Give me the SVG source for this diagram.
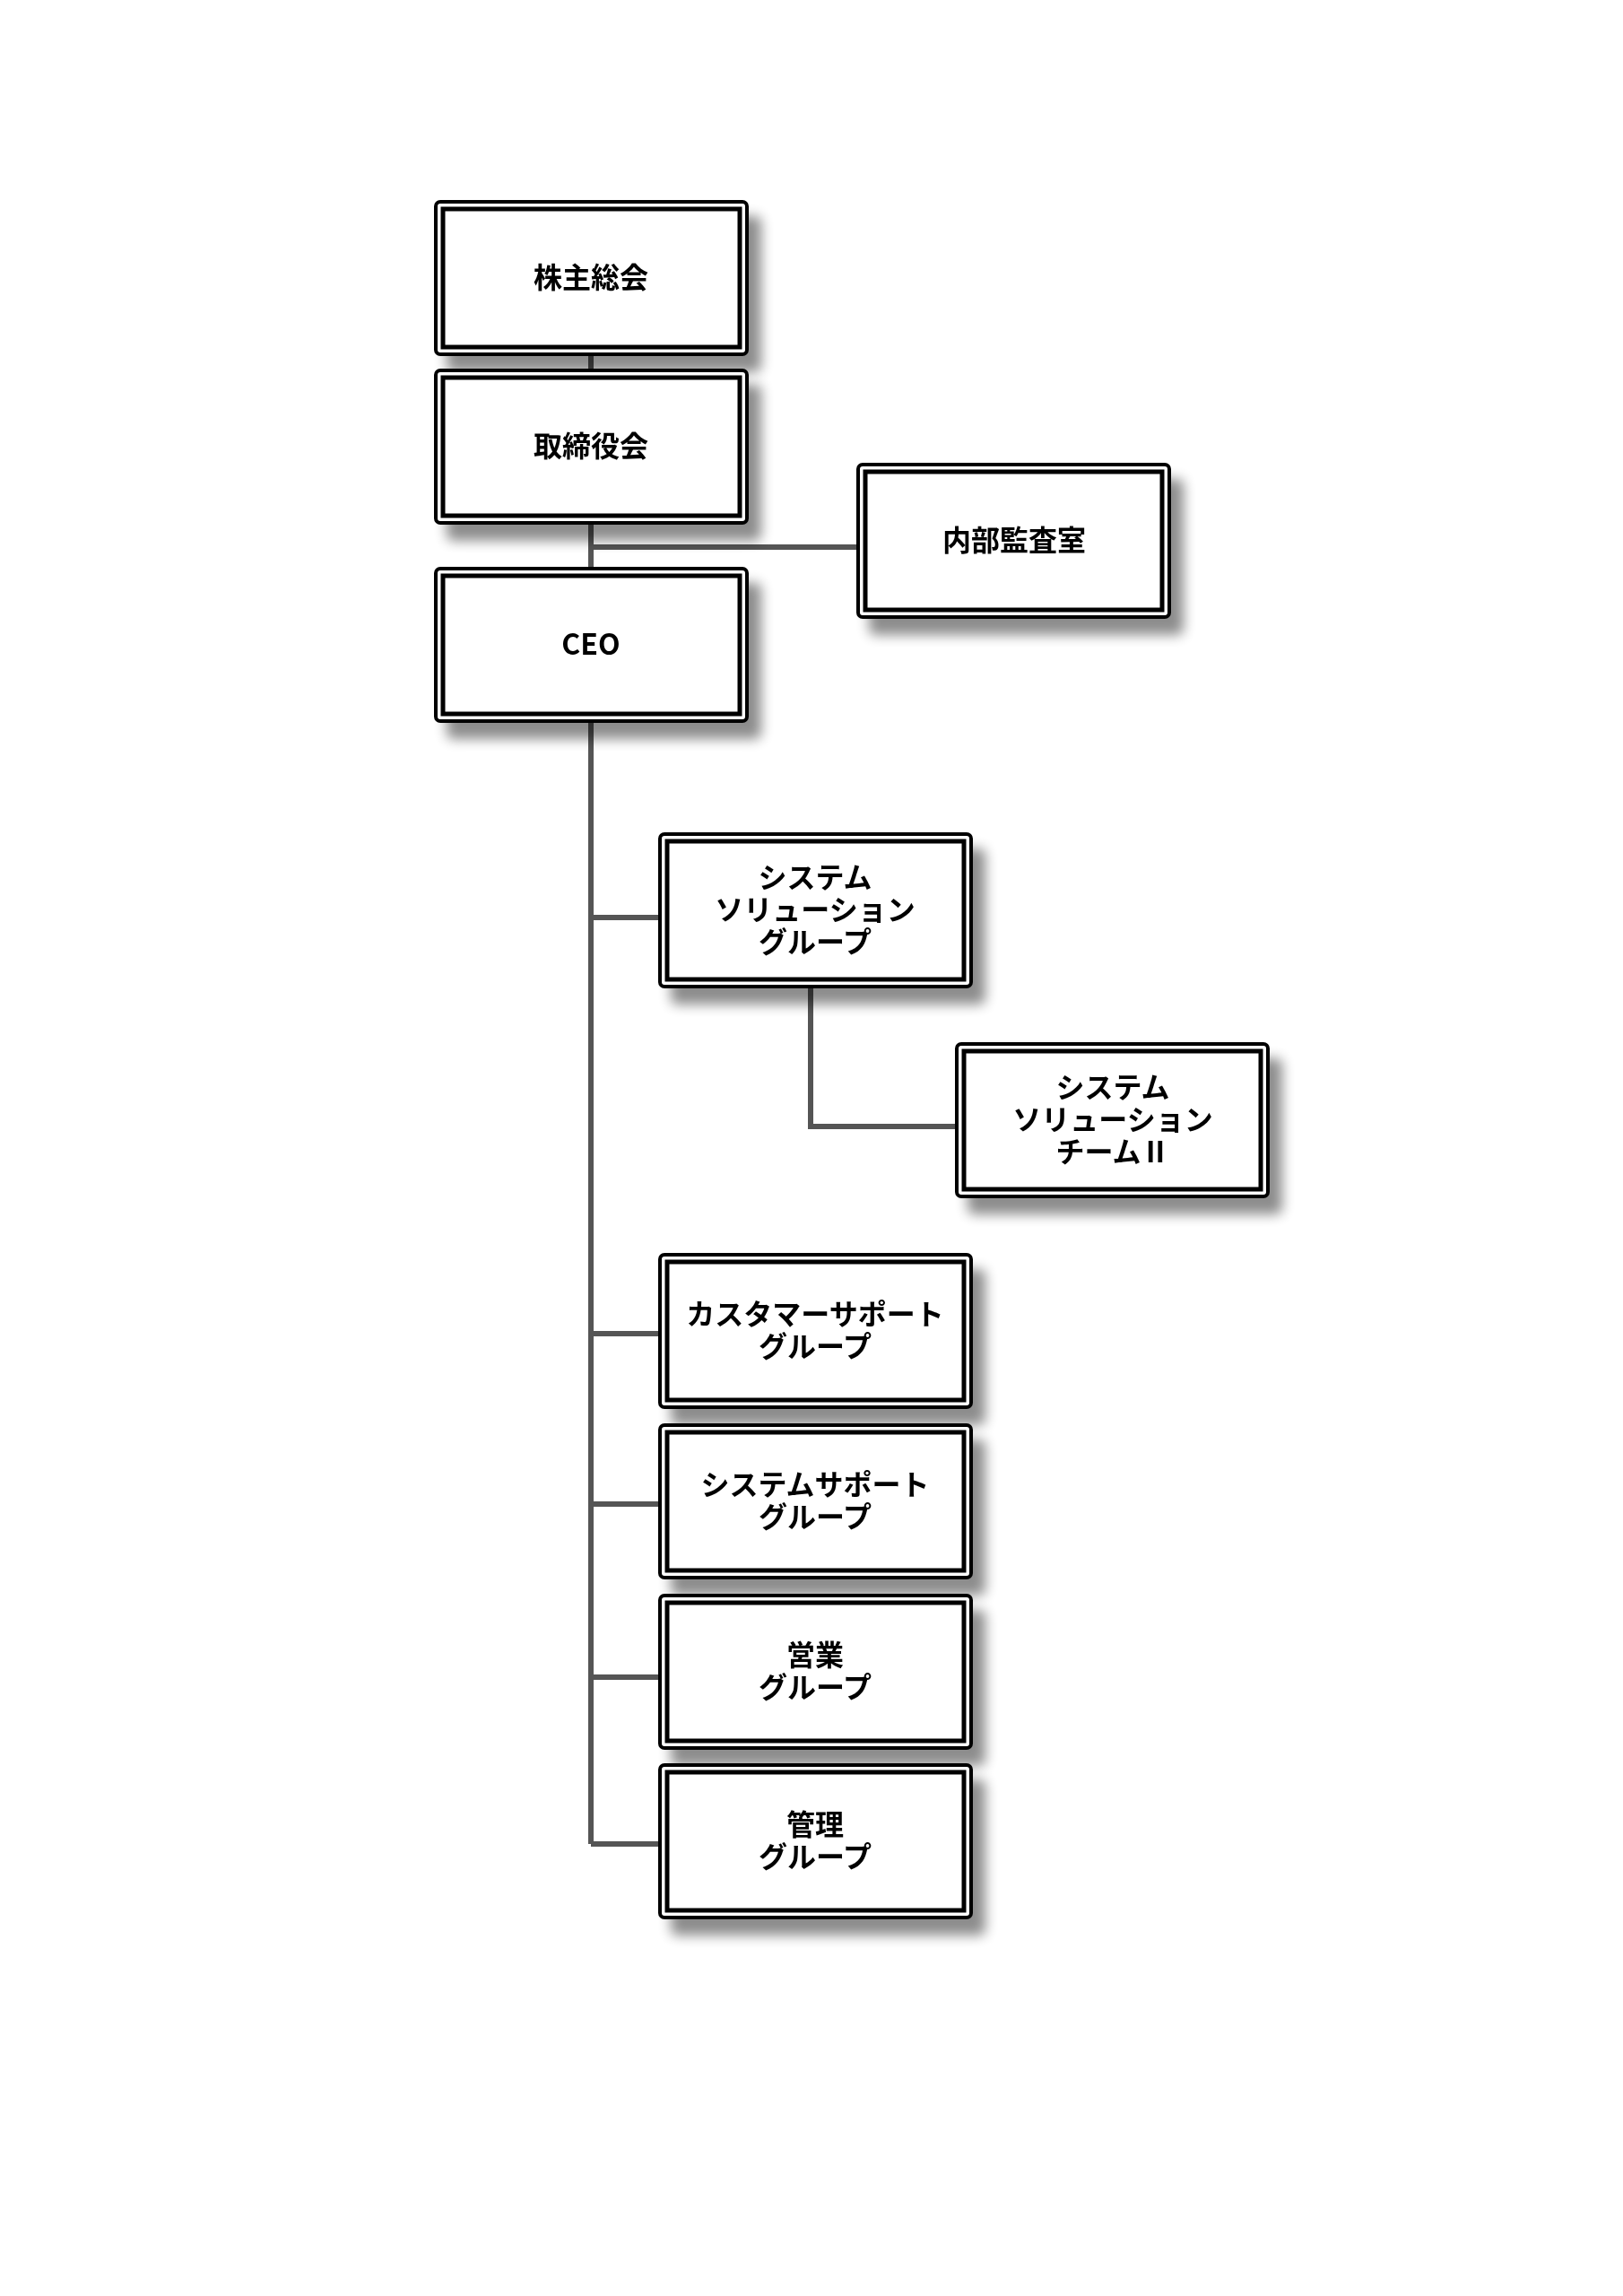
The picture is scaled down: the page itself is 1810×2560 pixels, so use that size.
<svg xmlns="http://www.w3.org/2000/svg" width="1810" height="2560" viewBox="0 0 1810 2560">
<style>
.o{fill:#fff;stroke:#000;stroke-width:4}
.i{fill:none;stroke:#000;stroke-width:5}
.t{font-family:"Noto Sans CJK JP","Noto Sans",sans-serif;font-weight:bold;font-size:32px;text-anchor:middle;fill:#000}
.c{fill:none;stroke:#555;stroke-width:6}
</style>
<defs>
<filter id="sh" x="-10%" y="-10%" width="130%" height="140%">
<feGaussianBlur in="SourceAlpha" stdDeviation="7"/>
<feOffset dx="14" dy="18"/>
<feComponentTransfer><feFuncA type="linear" slope="0.45"/></feComponentTransfer>
<feMerge><feMergeNode/><feMergeNode in="SourceGraphic"/></feMerge>
</filter>
<symbol id="box" viewBox="0 0 347 170" width="347" height="170" overflow="visible">
<rect class="o" x="0" y="0" width="347" height="170" rx="5"/>
<rect class="i" x="8" y="8" width="331" height="154"/>
</symbol>
</defs>
<rect width="1810" height="2560" fill="#fff"/>
<g id="connectors">
<path class="c" d="M659 395V413M659 583V634M659 610H957M659 804V2056M659 1023H736M659 1487H736M659 1677H736M659 1870H736M659 2056H736M904 1099V1256H1067"/>
</g>
<g id="n1" filter="url(#sh)"><use href="#box" x="486" y="225"/><text class="t" x="659" y="321">株主総会</text></g>
<g id="n2" filter="url(#sh)"><use href="#box" x="486" y="413"/><text class="t" x="659" y="509">取締役会</text></g>
<g id="n3" filter="url(#sh)"><use href="#box" x="957" y="518"/><text class="t" x="1131" y="614">内部監査室</text></g>
<g id="n4" filter="url(#sh)"><use href="#box" x="486" y="634"/><text class="t" x="659" y="730">CEO</text></g>
<g id="n5" filter="url(#sh)"><use href="#box" x="736" y="930"/><text class="t" x="909" y="990">システム</text><text class="t" x="909" y="1026">ソリューション</text><text class="t" x="909" y="1062">グループ</text></g>
<g id="n6" filter="url(#sh)"><use href="#box" x="1067" y="1164"/><text class="t" x="1241" y="1224">システム</text><text class="t" x="1241" y="1260">ソリューション</text><text class="t" x="1241" y="1296">チームⅡ</text></g>
<g id="n7" filter="url(#sh)"><use href="#box" x="736" y="1399"/><text class="t" x="909" y="1477">カスタマーサポート</text><text class="t" x="909" y="1513">グループ</text></g>
<g id="n8" filter="url(#sh)"><use href="#box" x="736" y="1589"/><text class="t" x="909" y="1667">システムサポート</text><text class="t" x="909" y="1703">グループ</text></g>
<g id="n9" filter="url(#sh)"><use href="#box" x="736" y="1779"/><text class="t" x="909" y="1857">営業</text><text class="t" x="909" y="1893">グループ</text></g>
<g id="n10" filter="url(#sh)"><use href="#box" x="736" y="1968"/><text class="t" x="909" y="2046">管理</text><text class="t" x="909" y="2082">グループ</text></g>
</svg>
